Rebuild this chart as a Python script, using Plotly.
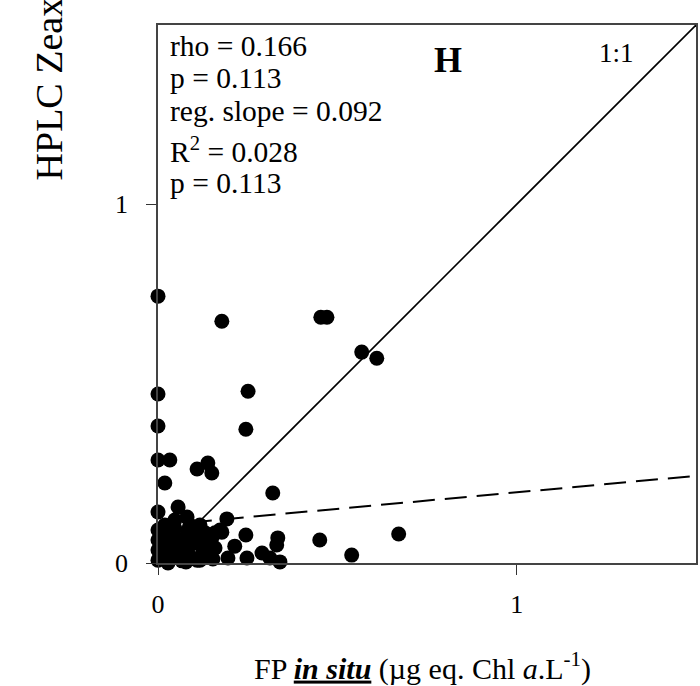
import plotly.graph_objects as go

# ---- data ----
fp_in_situ = [
    0.000, 0.178, 0.454, 0.471, 0.568, 0.610, 0.000, 0.251, 0.000, 0.245,
    0.000, 0.033, 0.109, 0.139, 0.150, 0.019, 0.320, 0.000, 0.056, 0.081,
    0.192, 0.245, 0.334, 0.331, 0.451, 0.540, 0.671, 0.195, 0.214, 0.248,
    0.290, 0.312, 0.340, 0.178, 0.159, 0.125, 0.117, 0.131, 0.103, 0.173,
    0.000, 0.000, 0.000, 0.000, 0.019, 0.028, 0.033, 0.028, 0.047, 0.056,
    0.061, 0.067, 0.084, 0.089, 0.095, 0.117, 0.109, 0.145, 0.153, 0.075,
    0.039, 0.014, 0.131,
    0.014, 0.033, 0.053, 0.075, 0.089, 0.106, 0.125, 0.139, 0.047, 0.011,
    0.117, 0.078, 0.028, 0.159, 0.150,
]
hplc_zeax = [
    0.744, 0.674, 0.685, 0.685, 0.588, 0.571, 0.471, 0.479, 0.382, 0.373,
    0.287, 0.287, 0.262, 0.279, 0.251, 0.223, 0.195, 0.142, 0.156, 0.128,
    0.123, 0.078, 0.070, 0.050, 0.064, 0.022, 0.081, 0.014, 0.047, 0.014,
    0.028, 0.014, 0.003, 0.086, 0.084, 0.031, 0.072, 0.084, 0.056, 0.092,
    0.092, 0.064, 0.036, 0.008, 0.106, 0.078, 0.042, 0.008, 0.097, 0.064,
    0.031, 0.006, 0.092, 0.050, 0.014, 0.106, 0.008, 0.050, 0.011, 0.070,
    0.022, 0.050, 0.042,
    0.092, 0.064, 0.042, 0.022, 0.106, 0.084, 0.064, 0.019, 0.120, 0.022,
    0.008, 0.003, 0.000, 0.042, 0.070,
]
reg_slope = 0.092
reg_intercept = 0.105
axis_max = 1.5
tick_values = [0, 1]
tick_labels = ["0", "1"]
stats_lines = ["rho = 0.166", "p = 0.113", "reg. slope = 0.092",
               "R<sup>2</sup> = 0.028", "p = 0.113"]
panel_label = "H"
one_to_one_label = "1:1"
x_title = "FP <b><i><u>in situ</u></i></b> (µg eq. Chl <i>a</i>.L<sup>-1</sup>)"
y_title = "HPLC Zeaxanthin (µg.L<sup>-1</sup>)"

FONT = "Liberation Serif"
W, H = 700, 686
L, R, T, B = 158, 2, 25, 123
PW, PH = W - L - R, H - T - B


def px(xp):
    return (xp - L) / PW


def py(yp):
    return (H - B - yp) / PH


fig = go.Figure()

# 1:1 line
fig.add_trace(go.Scatter(x=[0, axis_max], y=[0, axis_max], mode="lines",
                         line=dict(color="black", width=1.6),
                         hoverinfo="skip", showlegend=False))
# regression line
reg_x = [0, axis_max]
reg_y = [reg_intercept + reg_slope * v for v in reg_x]
fig.add_trace(go.Scatter(x=reg_x, y=reg_y, mode="lines",
                         line=dict(color="black", width=2, dash="22px,10px"),
                         hoverinfo="skip", showlegend=False))
# points
fig.add_trace(go.Scatter(x=fp_in_situ, y=hplc_zeax, mode="markers",
                         marker=dict(color="black", size=15,
                                     line=dict(width=0)),
                         cliponaxis=False, showlegend=False))

axis_common = dict(
    range=[0, axis_max], tickvals=tick_values, ticktext=tick_labels,
    ticks="outside", ticklen=10, tickwidth=1.2, tickcolor="#333",
    showline=True, linecolor="#444", linewidth=1.5, mirror=True,
    showgrid=False, zeroline=False,
    tickfont=dict(family=FONT, size=26, color="black"),
)
fig.update_xaxes(**axis_common, ticklabelstandoff=7)
fig.update_yaxes(**axis_common, ticklabelstandoff=13)

ann = []
stat_centers = [46, 78, 111, 150, 183]
for txt, yc in zip(stats_lines, stat_centers):
    ann.append(dict(text=txt, xref="paper", yref="paper", x=px(168), y=py(yc),
                    xanchor="left", yanchor="middle", showarrow=False,
                    font=dict(family=FONT, size=29.5, color="black")))
ann.append(dict(text="<b>" + panel_label + "</b>", xref="paper", yref="paper",
                x=px(449), y=py(60), xanchor="center", yanchor="middle",
                showarrow=False, font=dict(family=FONT, size=36, color="black")))
ann.append(dict(text=one_to_one_label, xref="paper", yref="paper",
                x=px(618), y=py(53), xanchor="center", yanchor="middle",
                showarrow=False, font=dict(family=FONT, size=27, color="black")))
ann.append(dict(text=x_title, xref="paper", yref="paper",
                x=px(423), y=py(666), xanchor="center", yanchor="middle",
                showarrow=False, font=dict(family=FONT, size=30, color="black")))
ann.append(dict(text=y_title, xref="paper", yref="paper",
                x=px(46), y=py(182), xanchor="center", yanchor="bottom",
                textangle=-90, showarrow=False,
                font=dict(family=FONT, size=38, color="black")))

fig.update_layout(
    width=W, height=H, margin=dict(l=L, r=R, t=T, b=B),
    paper_bgcolor="white", plot_bgcolor="white",
    annotations=ann, showlegend=False,
)

fig.write_html("out.html")
